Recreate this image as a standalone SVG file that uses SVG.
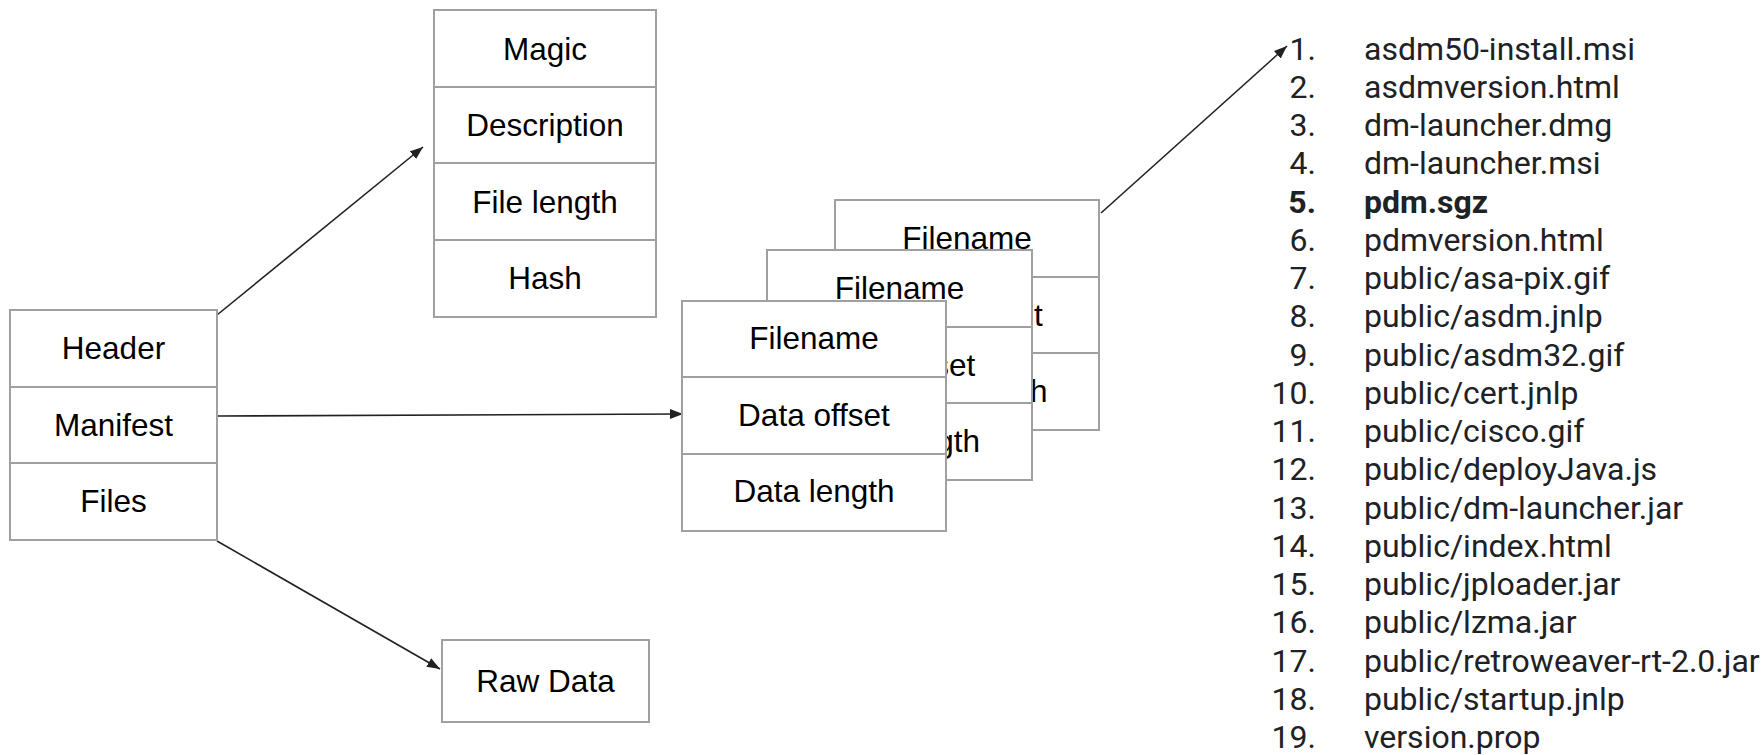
<svg xmlns="http://www.w3.org/2000/svg" width="1762" height="755" viewBox="0 0 1762 755">
<defs>
<style>
.box{fill:#fff;stroke:#a0a0a0;stroke-width:2}
.sep{stroke:#a0a0a0;stroke-width:2}
.t{font-family:"Liberation Sans",Arial,sans-serif;font-size:31.5px;fill:#000;text-anchor:middle}
.conn{stroke:#202124;stroke-width:1.6;fill:none}
.li{font-family:Roboto,"Noto Sans",sans-serif;font-size:32px;fill:#202124}
.num{text-anchor:end}
.b{font-weight:bold}
</style>
<marker id="ah" markerUnits="userSpaceOnUse" markerWidth="14" markerHeight="12" refX="13" refY="5" orient="auto">
<path d="M0,0 L13,5 L0,10 Z" fill="#202124"/>
</marker>
</defs>
<rect width="1762" height="755" fill="#fff"/>

<g id="connectors">
<line class="conn" x1="217" y1="315" x2="423" y2="147" marker-end="url(#ah)"/>
<line class="conn" x1="217" y1="416" x2="683" y2="414" marker-end="url(#ah)"/>
<line class="conn" x1="217" y1="541" x2="440" y2="669" marker-end="url(#ah)"/>
<line class="conn" x1="1101" y1="213" x2="1287" y2="46" marker-end="url(#ah)"/>
</g>

<g id="archive">
<rect class="box" x="10" y="310" width="207" height="230"/>
<line class="sep" x1="10" y1="387" x2="217" y2="387"/>
<line class="sep" x1="10" y1="463" x2="217" y2="463"/>
<text class="t" x="113.5" y="359">Header</text>
<text class="t" x="113.5" y="436">Manifest</text>
<text class="t" x="113.5" y="512">Files</text>
</g>

<g id="header">
<rect class="box" x="434" y="10" width="222" height="307"/>
<line class="sep" x1="434" y1="87" x2="656" y2="87"/>
<line class="sep" x1="434" y1="163" x2="656" y2="163"/>
<line class="sep" x1="434" y1="240" x2="656" y2="240"/>
<text class="t" x="545" y="60">Magic</text>
<text class="t" x="545" y="136">Description</text>
<text class="t" x="545" y="213">File length</text>
<text class="t" x="545" y="289">Hash</text>
</g>

<g id="rawdata">
<rect class="box" x="442" y="640" width="207" height="82"/>
<text class="t" x="545.5" y="692">Raw Data</text>
</g>

<g id="entry3">
<rect class="box" x="835" y="200" width="264" height="230"/>
<line class="sep" x1="835" y1="277" x2="1099" y2="277"/>
<line class="sep" x1="835" y1="353" x2="1099" y2="353"/>
<text class="t" x="967" y="249">Filename</text>
<text class="t" x="967" y="326">Data offset</text>
<text class="t" x="967" y="402">Data length</text>
</g>

<g id="entry2">
<rect class="box" x="767" y="250" width="265" height="230"/>
<line class="sep" x1="767" y1="327" x2="1032" y2="327"/>
<line class="sep" x1="767" y1="403" x2="1032" y2="403"/>
<text class="t" x="899.5" y="299">Filename</text>
<text class="t" x="899.5" y="376">Data offset</text>
<text class="t" x="899.5" y="452">Data length</text>
</g>

<g id="entry1">
<rect class="box" x="682" y="301" width="264" height="230"/>
<line class="sep" x1="682" y1="377" x2="946" y2="377"/>
<line class="sep" x1="682" y1="454" x2="946" y2="454"/>
<text class="t" x="814" y="349">Filename</text>
<text class="t" x="814" y="426">Data offset</text>
<text class="t" x="814" y="502">Data length</text>
</g>

<g id="filelist" class="li">
<text class="num" x="1316" y="59.5">1.</text><text x="1364" y="59.5">asdm50-install.msi</text>
<text class="num" x="1316" y="97.75">2.</text><text x="1364" y="97.75">asdmversion.html</text>
<text class="num" x="1316" y="136">3.</text><text x="1364" y="136">dm-launcher.dmg</text>
<text class="num" x="1316" y="174.25">4.</text><text x="1364" y="174.25">dm-launcher.msi</text>
<text class="num b" x="1316" y="212.5">5.</text><text class="b" x="1364" y="212.5">pdm.sgz</text>
<text class="num" x="1316" y="250.75">6.</text><text x="1364" y="250.75">pdmversion.html</text>
<text class="num" x="1316" y="289">7.</text><text x="1364" y="289">public/asa-pix.gif</text>
<text class="num" x="1316" y="327.25">8.</text><text x="1364" y="327.25">public/asdm.jnlp</text>
<text class="num" x="1316" y="365.5">9.</text><text x="1364" y="365.5">public/asdm32.gif</text>
<text class="num" x="1316" y="403.75">10.</text><text x="1364" y="403.75">public/cert.jnlp</text>
<text class="num" x="1316" y="442">11.</text><text x="1364" y="442">public/cisco.gif</text>
<text class="num" x="1316" y="480.25">12.</text><text x="1364" y="480.25">public/deployJava.js</text>
<text class="num" x="1316" y="518.5">13.</text><text x="1364" y="518.5">public/dm-launcher.jar</text>
<text class="num" x="1316" y="556.75">14.</text><text x="1364" y="556.75">public/index.html</text>
<text class="num" x="1316" y="595">15.</text><text x="1364" y="595">public/jploader.jar</text>
<text class="num" x="1316" y="633.25">16.</text><text x="1364" y="633.25">public/lzma.jar</text>
<text class="num" x="1316" y="671.5">17.</text><text x="1364" y="671.5">public/retroweaver-rt-2.0.jar</text>
<text class="num" x="1316" y="709.75">18.</text><text x="1364" y="709.75">public/startup.jnlp</text>
<text class="num" x="1316" y="748">19.</text><text x="1364" y="748">version.prop</text>
</g>
</svg>
